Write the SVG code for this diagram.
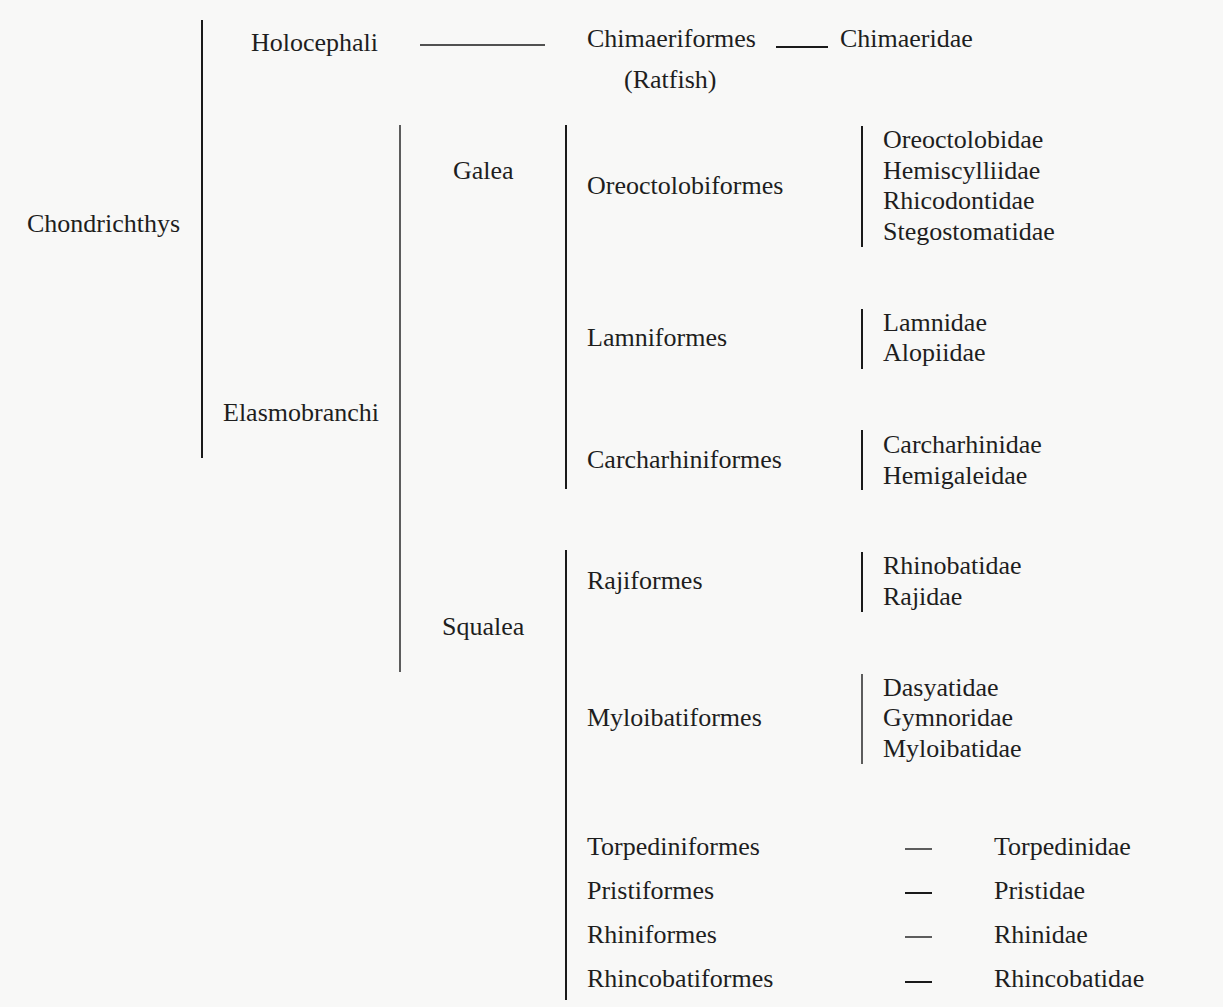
<svg xmlns="http://www.w3.org/2000/svg" width="1223" height="1007" viewBox="0 0 1223 1007">
<style>
text{font-family:"Liberation Serif","DejaVu Serif",serif;font-size:26px;fill:#1e1e1e}
.ln{stroke:#1a1a1a;stroke-width:2;fill:none}
.thin{stroke:#1a1a1a;stroke-width:1.4;fill:none}
</style>
<rect width="1223" height="1007" fill="#f8f8f7"/>
<g id="connectors">
<line class="ln" x1="202" y1="20" x2="202" y2="458"/>
<line class="thin" x1="400" y1="125" x2="400" y2="672"/>
<line class="ln" x1="566" y1="125" x2="566" y2="489"/>
<line class="ln" x1="566" y1="550" x2="566" y2="1000"/>
<line class="thin" x1="420" y1="45" x2="545" y2="45"/>
<line class="ln" x1="776" y1="47" x2="828" y2="47"/>
<line class="ln" x1="862" y1="126" x2="862" y2="247"/>
<line class="ln" x1="862" y1="309" x2="862" y2="369"/>
<line class="ln" x1="862" y1="430" x2="862" y2="490"/>
<line class="ln" x1="862" y1="552" x2="862" y2="612"/>
<line class="thin" x1="862" y1="674" x2="862" y2="764"/>
<line class="thin" x1="905" y1="849" x2="932" y2="849"/>
<line class="ln" x1="905" y1="893" x2="932" y2="893"/>
<line class="thin" x1="905" y1="937" x2="932" y2="937"/>
<line class="ln" x1="905" y1="982" x2="932" y2="982"/>
</g>
<g id="chondrichthys"><text x="27" y="232">Chondrichthys</text></g>
<g id="holocephali"><text x="251" y="51">Holocephali</text></g>
<g id="chimaeriformes"><text x="587" y="47">Chimaeriformes</text><text x="624" y="88">(Ratfish)</text></g>
<g id="chimaeridae"><text x="840" y="47">Chimaeridae</text></g>
<g id="elasmobranchi"><text x="223" y="421">Elasmobranchi</text></g>
<g id="galea"><text x="453" y="179">Galea</text></g>
<g id="squalea"><text x="442" y="635">Squalea</text></g>
<g id="oreoctolobiformes"><text x="587" y="194">Oreoctolobiformes</text></g>
<g id="oreo-families"><text x="883" y="148">Oreoctolobidae</text><text x="883" y="179">Hemiscylliidae</text><text x="883" y="209">Rhicodontidae</text><text x="883" y="240">Stegostomatidae</text></g>
<g id="lamniformes"><text x="587" y="346">Lamniformes</text></g>
<g id="lamni-families"><text x="883" y="331">Lamnidae</text><text x="883" y="361">Alopiidae</text></g>
<g id="carcharhiniformes"><text x="587" y="468">Carcharhiniformes</text></g>
<g id="carch-families"><text x="883" y="453">Carcharhinidae</text><text x="883" y="484">Hemigaleidae</text></g>
<g id="rajiformes"><text x="587" y="589">Rajiformes</text></g>
<g id="raji-families"><text x="883" y="574">Rhinobatidae</text><text x="883" y="605">Rajidae</text></g>
<g id="myloibatiformes"><text x="587" y="726">Myloibatiformes</text></g>
<g id="mylo-families"><text x="883" y="696">Dasyatidae</text><text x="883" y="726">Gymnoridae</text><text x="883" y="757">Myloibatidae</text></g>
<g id="torpediniformes"><text x="587" y="855">Torpediniformes</text></g>
<g id="torpedinidae"><text x="994" y="855">Torpedinidae</text></g>
<g id="pristiformes"><text x="587" y="899">Pristiformes</text></g>
<g id="pristidae"><text x="994" y="899">Pristidae</text></g>
<g id="rhiniformes"><text x="587" y="943">Rhiniformes</text></g>
<g id="rhinidae"><text x="994" y="943">Rhinidae</text></g>
<g id="rhincobatiformes"><text x="587" y="987">Rhincobatiformes</text></g>
<g id="rhincobatidae"><text x="994" y="987">Rhincobatidae</text></g>
</svg>
